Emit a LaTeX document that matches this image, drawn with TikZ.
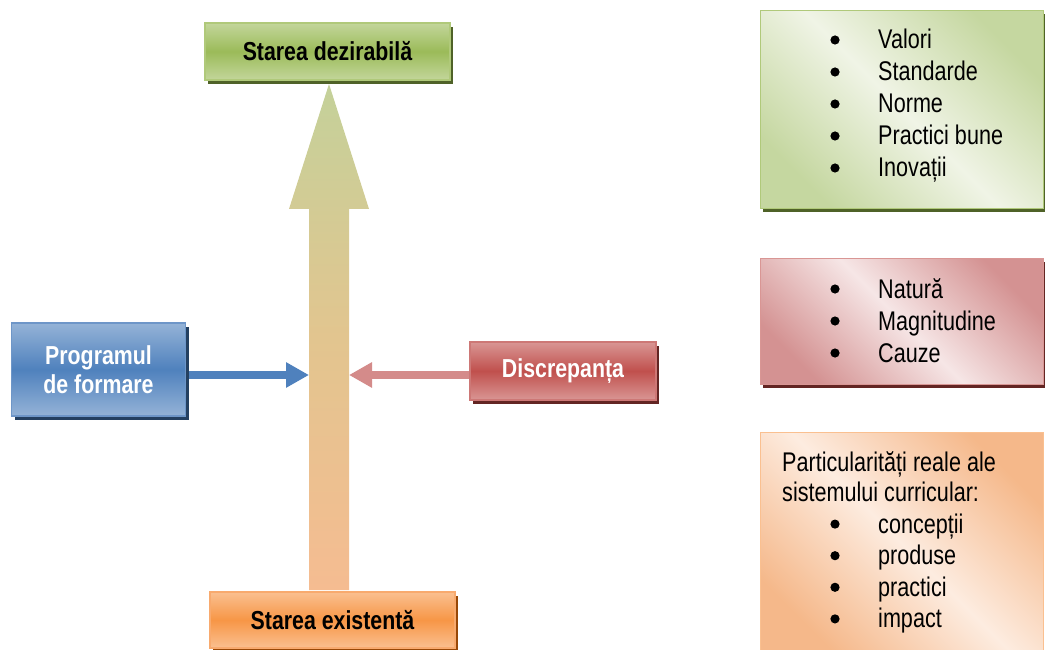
\documentclass[tikz,border=0pt]{standalone}
\usepackage{fontspec}
\setmainfont{Liberation Sans}
\newfontfamily\labelfont[FakeStretch=0.82]{Liberation Sans}
\newfontfamily\listfont[FakeStretch=0.8]{Liberation Sans}
\usetikzlibrary{shadows,arrows.meta,calc}

% palette
\definecolor{gMid}{RGB}{155,187,89}
\definecolor{gLight}{RGB}{195,214,155}
\definecolor{gLine}{RGB}{176,201,122}
\definecolor{gDark}{RGB}{79,98,40}
\definecolor{bMid}{RGB}{79,129,189}
\definecolor{bLight}{RGB}{149,179,215}
\definecolor{bLine}{RGB}{110,150,200}
\definecolor{bDark}{RGB}{36,64,97}
\definecolor{rMid}{RGB}{192,80,77}
\definecolor{rLight}{RGB}{217,150,148}
\definecolor{rLine}{RGB}{205,120,118}
\definecolor{rDark}{RGB}{99,37,35}
\definecolor{oMid}{RGB}{247,150,70}
\definecolor{oLight}{RGB}{250,192,144}
\definecolor{oLine}{RGB}{248,170,110}
\definecolor{oDark}{RGB}{152,72,7}
\definecolor{arrTop}{RGB}{196,209,154}
\definecolor{arrMid}{RGB}{226,197,143}
\definecolor{arrBot}{RGB}{245,188,145}
\definecolor{blueArrow}{RGB}{79,129,189}
\definecolor{redArrow}{RGB}{212,139,138}
\definecolor{lgDark}{RGB}{197,215,160}
\definecolor{lgLight}{RGB}{240,244,230}
\definecolor{lrDark}{RGB}{212,146,146}
\definecolor{lrLight}{RGB}{246,230,230}
\definecolor{loDark}{RGB}{245,184,138}
\definecolor{loLight}{RGB}{253,236,224}

\tikzset{
  statebox/.style={rectangle, inner sep=0pt, line width=1.2pt,
    font=\labelfont\bfseries\fontsize{26}{29}\selectfont, align=center},
  greenbox/.style={statebox, draw=gLine, top color=gLight, bottom color=gLight,
    middle color=gMid, drop shadow={shadow xshift=3pt, shadow yshift=-4pt, fill=gDark, opacity=1}},
  bluebox/.style={statebox, draw=bLine, top color=bLight, bottom color=bLight,
    middle color=bMid, text=white, drop shadow={shadow xshift=3pt, shadow yshift=-4pt, fill=bDark, opacity=1}},
  redbox/.style={statebox, draw=rLine, top color=rLight, bottom color=rLight,
    middle color=rMid, text=white, drop shadow={shadow xshift=3pt, shadow yshift=-4pt, fill=rDark, opacity=1}},
  orangebox/.style={statebox, draw=oLine, top color=oLight, bottom color=oLight,
    middle color=oMid, drop shadow={shadow xshift=3pt, shadow yshift=-4pt, fill=oDark, opacity=1}},
  listpanel/.style={rectangle, inner sep=0pt, line width=0.8pt, anchor=north west},
  item/.style={anchor=base west, inner sep=0pt, font=\listfont\fontsize{27}{32}\selectfont},
  sidearrow/.style={line width=8pt, -{Triangle[length=23pt,width=24pt]}}
}

\begin{document}
\begin{tikzpicture}[x=1pt,y=-1pt]
\useasboundingbox (0,0) rectangle (1045,650);

% central block arrow, from the existing state up to the desired state
\coordinate (tail) at (329,590);
\coordinate (tip) at (329,84);
\coordinate (shaftL) at (309,375);
\coordinate (shaftR) at (349,375);
\shade[top color=arrTop, bottom color=arrBot, middle color=arrMid]
  ($(tail)+(-20,0)$) -- ($(tail)+(-20,-381)$) -- ($(tail)+(-40,-381)$) -- (tip)
  -- ($(tail)+(40,-381)$) -- ($(tail)+(20,-381)$) -- ($(tail)+(20,0)$) -- cycle;

% state boxes
\node[greenbox, minimum width=245pt, minimum height=57pt] (des) at (327.5,51.5) {Starea dezirabilă};
\node[orangebox, minimum width=245pt, minimum height=56pt] (ex) at (332.5,620) {Starea existentă};
\node[bluebox, minimum width=174pt, minimum height=93pt] (prog) at (98.5,369.5) {Programul\\de formare};
\node[redbox, minimum width=186pt, minimum height=58pt] (disc) at (563,371) {Discrepanța};

% side arrows into the shaft
\draw[sidearrow, blueArrow] ($(prog.east |- shaftL)+(3,0)$) -- (shaftL);
\draw[sidearrow, redArrow] (disc.west |- shaftR) -- (shaftR);

% right-hand panels
\node[listpanel, minimum width=283pt, minimum height=198pt, draw=gLine,
  left color=lgDark, right color=lgDark, middle color=lgLight, shading angle=-45,
  drop shadow={shadow xshift=3pt, shadow yshift=-4pt, fill=gDark, opacity=1}] (pg) at (760,10) {};
\node[listpanel, minimum width=283pt, minimum height=126pt, draw=rLight,
  left color=lrDark, right color=lrDark, middle color=lrLight, shading angle=-45,
  drop shadow={shadow xshift=3pt, shadow yshift=-4pt, fill=rDark, opacity=1}] (pr) at (760,258) {};
\node[listpanel, minimum width=283pt, minimum height=222pt, draw=oLight,
  left color=loDark, right color=loDark, middle color=loLight, shading angle=-45] (po) at (760,432) {};

% list entries with round bullets
\foreach \t [count=\i] in {Valori,Standarde,Norme,Practici bune,Inovații}{
  \node[item] (g\i) at (878,17+32*\i) {\t};
  \fill ($(g\i.base west)+(-43,-9)$) circle (4.6pt);
}
\foreach \t [count=\i] in {Natură,Magnitudine,Cauze}{
  \node[item] (r\i) at (878,266+32*\i) {\t};
  \fill ($(r\i.base west)+(-43,-9)$) circle (4.6pt);
}
\node[item] (oh1) at (782,471) {Particularități reale ale};
\node[item] (oh2) at (782,501) {sistemului curricular:};
\foreach \t [count=\i] in {concepții,produse,practici,impact}{
  \node[item] (o\i) at (878,501.5+31.6*\i) {\t};
  \fill ($(o\i.base west)+(-43,-9)$) circle (4.6pt);
}
\end{tikzpicture}
\end{document}
